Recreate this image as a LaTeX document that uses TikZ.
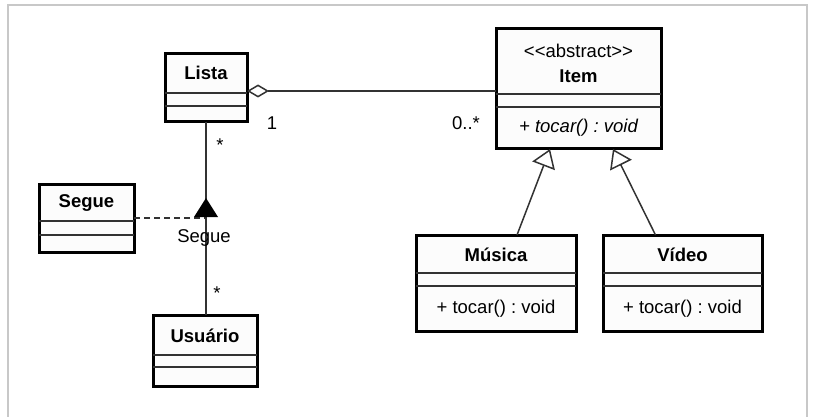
\documentclass[tikz,border=0pt]{standalone}
\usepackage{fontspec}
\setmainfont{Liberation Sans}
\frenchspacing
\usetikzlibrary{arrows.meta,calc}
\definecolor{framegray}{RGB}{200,200,200}
\definecolor{boxfill}{RGB}{252,252,252}
\definecolor{linegray}{RGB}{50,50,50}
\begin{document}
\begin{tikzpicture}[x=1pt,y=-1pt,
  classbox/.style={draw=black,line width=3pt,fill=boxfill,inner sep=0pt,outer sep=0pt},
  sepline/.style={draw=linegray,line width=1.5pt},
  conn/.style={draw=linegray,line width=1.5pt},
  title/.style={font=\fontsize{18.5}{22}\selectfont\bfseries,inner sep=0pt},
  txt/.style={font=\fontsize{18.5}{22}\selectfont\frenchspacing,inner sep=0pt},
  itxt/.style={font=\fontsize{18.5}{22}\selectfont\itshape\frenchspacing,inner sep=0pt},
  aggr/.style={conn,{Diamond[open,fill=white,length=22pt,width=13pt,line width=1.5pt]}-},
  gener/.style={conn,-{Triangle[open,fill=white,length=18pt,width=24pt,line width=1.5pt]}}]
\useasboundingbox (0,0) rectangle (814,417);
\fill[white] (0,0) rectangle (814,417);
\draw[framegray,line width=2pt] (8,420) -- (8,5) -- (807,5) -- (807,420);

% classes
\node[classbox,anchor=north west,minimum width=82pt,minimum height=68pt] (lista) at (165,54) {};
\draw[sepline] (165,93) -- (247,93) (165,106) -- (247,106);
\node[title] (listaT) at (206,73) {Lista};

\node[classbox,anchor=north west,minimum width=165pt,minimum height=120pt] (item) at (496,29) {};
\draw[sepline] (496,94) -- (661,94) (496,107) -- (661,107);
\node[txt] (itemS) at (578.5,51) {<\kern0pt<abstract>\kern0pt>};
\node[title] (itemT) at (578.5,76) {Item};
\node[itxt] (itemO) at (578.5,128) {+ tocar() : void};

\node[classbox,anchor=north west,minimum width=95pt,minimum height=68pt] (segue) at (39,184) {};
\draw[sepline] (39,221) -- (134,221) (39,235) -- (134,235);
\node[title] (segueT) at (86.5,203) {Segue};

\node[classbox,anchor=north west,minimum width=104pt,minimum height=71pt] (usuario) at (153,315) {};
\draw[sepline] (153,355) -- (257,355) (153,367) -- (257,367);
\node[title] (usuarioT) at (205,336) {Usuário};

\node[classbox,anchor=north west,minimum width=160pt,minimum height=96pt] (musica) at (416,235) {};
\draw[sepline] (416,273) -- (576,273) (416,286) -- (576,286);
\node[title] (musicaT) at (496,255) {Música};
\node[txt] (musicaO) at (496,309) {+ tocar() : void};

\node[classbox,anchor=north west,minimum width=159pt,minimum height=96pt] (video) at (603,235) {};
\draw[sepline] (603,273) -- (762,273) (603,286) -- (762,286);
\node[title] (videoT) at (682.5,255) {Vídeo};
\node[txt] (videoO) at (682.5,309) {+ tocar() : void};

% aggregation Lista - Item
\draw[aggr] ([yshift=-3pt]lista.east) -- ([yshift=-3pt]lista.east -| item.west);
\node[txt] (m1) at (272,123) {1};
\node[txt] (m2) at (466,123) {0..*};

% association Lista - Usuario
\coordinate (mid) at (lista.south |- segue.east);
\draw[conn] (lista.south) -- (lista.south |- usuario.north);
\draw[conn,dashed,dash pattern=on 6pt off 4pt] (segue.east) -- (mid);
\fill[black] ($(mid)+(0,-20)$) -- ($(mid)+(-12,-1)$) -- ($(mid)+(12,-1)$) -- cycle;
\node[txt] (segueL) at (204,238) {Segue};
\node[txt] (s1) at (220,145) {*};
\node[txt] (s2) at (217,293) {*};

% generalizations
\draw[gener] ([xshift=21pt]musica.north) -- ([xshift=54pt]item.south west);
\draw[gener] ([xshift=-27pt]video.north) -- ([xshift=-48pt]item.south east);
\end{tikzpicture}
\end{document}
